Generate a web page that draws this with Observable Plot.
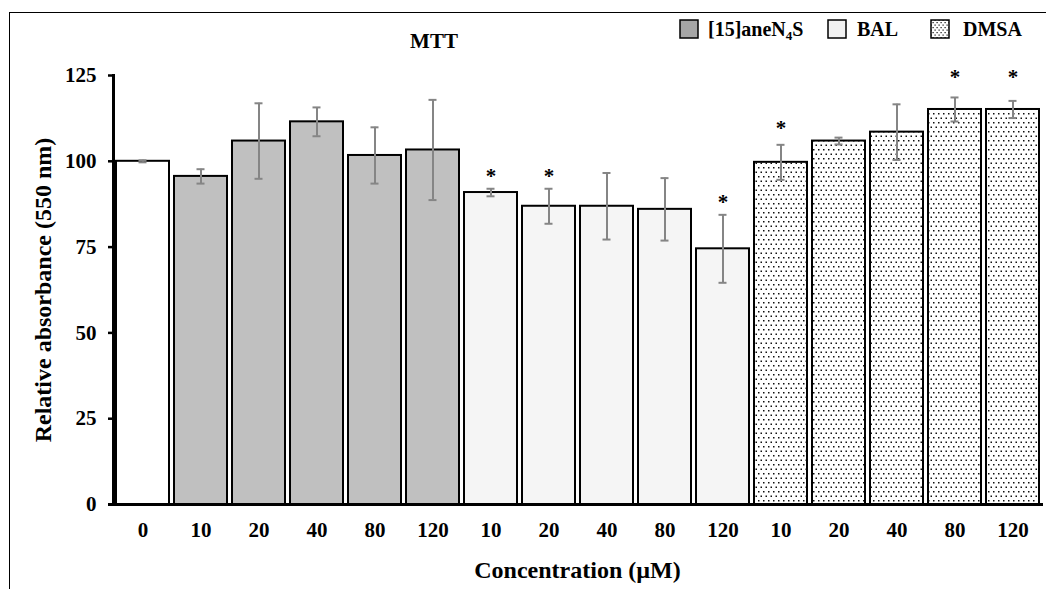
<!DOCTYPE html>
<html>
<head>
<meta charset="utf-8">
<script src="https://cdn.jsdelivr.net/npm/d3@7"></script>
<script src="https://cdn.jsdelivr.net/npm/@observablehq/plot@0.6"></script>
<style>
  body { margin: 0; background: #fff; }
  #wrap { position: relative; width: 1046px; height: 589px; overflow: hidden;
          font-family: "Liberation Serif", "Times New Roman", serif; font-weight: bold; color: #000; }
  #frame { position: absolute; left: 9px; top: 12px; right: -10px; bottom: -10px;
           border-top: 1.5px solid #000; border-left: 1.5px solid #000; }
  #chart { position: absolute; left: 0; top: 0; }
  .txt { position: absolute; font-size: 20px; line-height: 20px; white-space: nowrap; }
  .sw { position: absolute; top: 19px; width: 20px; height: 20px; }
  sub { font-size: 13px; line-height: 0; vertical-align: -4px; }
  #chart svg g[aria-label="y-axis label"] text, #chart svg g[aria-label="x-axis label"] text { font-size: 24px; }
</style>
</head>
<body>
<svg width="0" height="0" style="position:absolute">
  <defs>
    <pattern id="dots" patternUnits="userSpaceOnUse" width="5" height="9">
      <rect width="5" height="9" fill="#fff"/>
      <rect x="0.5" y="0.5" width="1.5" height="1.5" fill="#111"/>
      <rect x="3" y="5" width="1.5" height="1.5" fill="#111"/>
    </pattern>
    <pattern id="dots2" patternUnits="userSpaceOnUse" width="4" height="5">
      <rect width="4" height="5" fill="#fff"/>
      <rect x="0.5" y="0.5" width="1.2" height="1.2" fill="#111"/>
      <rect x="2.5" y="3" width="1.2" height="1.2" fill="#111"/>
    </pattern>
  </defs>
</svg>
<div id="wrap">
  <div id="frame"></div>
  <div id="chart"></div>
  <div class="txt" style="left:434px; top:31px; transform:translateX(-50%); font-size:21px;">MTT</div>
  <svg class="sw" style="left:679px"><rect x="1" y="1" width="18" height="18" fill="#a6a6a6" stroke="#000" stroke-width="1.5"/></svg>
  <div class="txt" style="left:708px; top:19px;">[15]aneN<sub>4</sub>S</div>
  <svg class="sw" style="left:827px"><rect x="1" y="1" width="18" height="18" fill="#f2f2f2" stroke="#000" stroke-width="1.5"/></svg>
  <div class="txt" style="left:857px; top:19px;">BAL</div>
  <svg class="sw" style="left:930px"><rect x="1" y="1" width="18" height="18" fill="url(#dots2)" stroke="#000" stroke-width="1.5"/></svg>
  <div class="txt" style="left:963px; top:19px;">DMSA</div>
</div>
<script>
// ---- data ----
const groups = ["Control", "[15]aneN4S", "[15]aneN4S", "[15]aneN4S", "[15]aneN4S", "[15]aneN4S",
                "BAL", "BAL", "BAL", "BAL", "BAL",
                "DMSA", "DMSA", "DMSA", "DMSA", "DMSA"];
const concLabels = ["0", "10", "20", "40", "80", "120", "10", "20", "40", "80", "120", "10", "20", "40", "80", "120"];
const values = [100, 95.6, 105.9, 111.5, 101.7, 103.3, 90.9, 86.9, 86.9, 86.0, 74.5, 99.7, 105.9, 108.5, 115.1, 115.1];
const errors = [0.3, 2.1, 11.0, 4.2, 8.2, 14.6, 1.1, 5.1, 9.7, 9.1, 9.9, 5.1, 1.0, 8.1, 3.5, 2.5];
const starLevels = [null, null, null, null, null, null, 96.5, 96.5, null, null, 88.8, 110.4, null, null, 125.3, 125.3];
const yTicks = [0, 25, 50, 75, 100, 125];
const groupNames = ["Control", "[15]aneN4S", "BAL", "DMSA"];
const groupFills = ["#ffffff", "#c0c0c0", "#f5f5f5", "url(#dots)"];

const rows = values.map((v, i) => ({i, group: groups[i], value: v, err: errors[i], star: starLevels[i]}));
const grey = "#858585";

const chart = Plot.plot({
  width: 1046,
  height: 589,
  marginLeft: 113,
  marginRight: 5,
  marginTop: 75,
  marginBottom: 85,
  style: "font-family: 'Liberation Serif', 'Times New Roman', serif; font-weight: bold; font-size: 21px; color: #000; background: transparent;",
  x: {type: "band", domain: d3.range(16), paddingInner: 0.09, paddingOuter: 0.04},
  y: {domain: [0, 125]},
  color: {type: "ordinal", domain: groupNames, range: groupFills},
  marks: [
    Plot.barY(rows, {x: "i", y: "value", fill: "group", stroke: "#000", strokeWidth: 2}),
    Plot.ruleX(rows, {x: "i", y1: d => d.value - d.err, y2: d => d.value + d.err, stroke: grey, strokeWidth: 2}),
    Plot.tickY(rows, {x: "i", y: d => d.value + d.err, stroke: grey, strokeWidth: 2, insetLeft: 22.5, insetRight: 22.5}),
    Plot.tickY(rows, {x: "i", y: d => d.value - d.err, stroke: grey, strokeWidth: 2, insetLeft: 22.5, insetRight: 22.5}),
    Plot.text(rows.filter(d => d.star != null), {x: "i", y: "star", text: () => "*", fontSize: 21, fontWeight: "bold", dy: 3}),
    Plot.axisY({ticks: yTicks, tickSize: 5, tickPadding: 12, strokeWidth: 2.5, fontSize: 21,
                label: "Relative absorbance (550 nm)", labelAnchor: "center", labelOffset: 80, labelArrow: "none"}),
    Plot.axisX({tickSize: 0, tickPadding: 18, tickFormat: i => concLabels[i], fontSize: 21,
                label: "Concentration (\u00b5M)", labelAnchor: "center", labelOffset: 73, labelArrow: "none"}),
    Plot.frame({anchor: "left", strokeWidth: 3}),
    Plot.ruleY([0], {strokeWidth: 3, insetLeft: -5, insetRight: -2})
  ]
});
document.getElementById("chart").appendChild(chart);
</script>
</body>
</html>
